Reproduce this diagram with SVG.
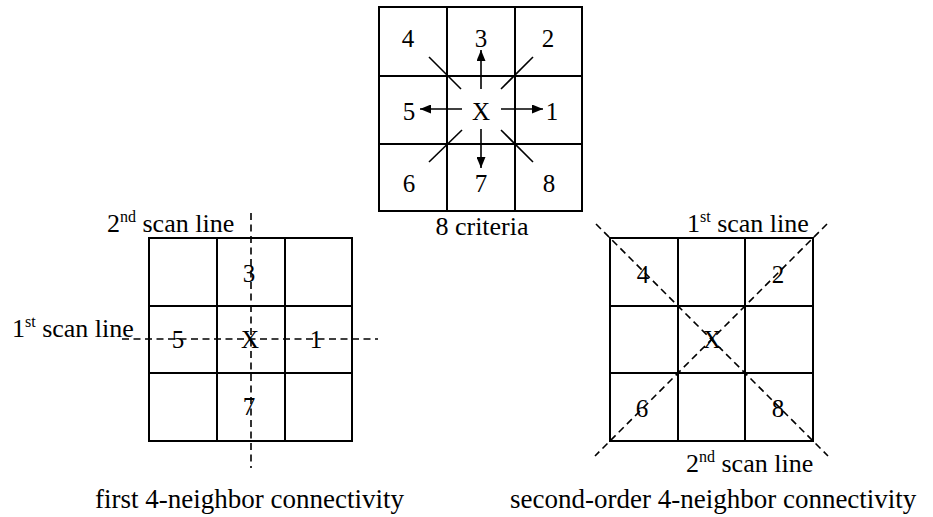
<svg xmlns="http://www.w3.org/2000/svg" width="933" height="517" viewBox="0 0 933 517">
<defs>
<style>
.grid{fill:none;stroke:#000;stroke-width:2}
.dash{fill:none;stroke:#000;stroke-width:1.6;stroke-dasharray:7 4.5}
.solid{fill:none;stroke:#000;stroke-width:1.6}
text{font-family:'Liberation Serif','DejaVu Serif',serif;fill:#000}
.d{font-size:25px;text-anchor:middle}
.cap{font-size:27px}
.lbl{font-size:26px}
</style>
<marker id="ah" viewBox="0 0 11 9" refX="11" refY="4.5" markerWidth="11" markerHeight="9" markerUnits="userSpaceOnUse" orient="auto">
<path d="M0,0 L11,4.5 L0,9 Z" fill="#000"/>
</marker>
</defs>
<rect width="933" height="517" fill="#fff"/>

<g id="grid-8-criteria" font-family="Liberation Serif, DejaVu Serif, serif">
<rect class="grid" x="379" y="7" width="203" height="204"/>
<line class="grid" x1="447" y1="7" x2="447" y2="211"/>
<line class="grid" x1="515" y1="7" x2="515" y2="211"/>
<line class="grid" x1="379" y1="76" x2="582" y2="76"/>
<line class="grid" x1="379" y1="144" x2="582" y2="144"/>
<text class="d" x="408" y="47">4</text>
<text class="d" x="481" y="47">3</text>
<text class="d" x="548" y="47">2</text>
<text class="d" x="409" y="120">5</text>
<text class="d" x="481" y="120">X</text>
<text class="d" x="552" y="120">1</text>
<text class="d" x="409" y="192">6</text>
<text class="d" x="481" y="192">7</text>
<text class="d" x="549" y="192">8</text>
<text class="lbl" x="482" y="235" text-anchor="middle">8 criteria</text>
</g>

<g id="grid-first" font-family="Liberation Serif, DejaVu Serif, serif">
<rect class="grid" x="149" y="238" width="203" height="203"/>
<line class="grid" x1="217" y1="238" x2="217" y2="441"/>
<line class="grid" x1="285" y1="238" x2="285" y2="441"/>
<line class="grid" x1="149" y1="306" x2="352" y2="306"/>
<line class="grid" x1="149" y1="373" x2="352" y2="373"/>
<text class="d" x="249" y="282">3</text>
<text class="d" x="178" y="348">5</text>
<text class="d" x="250" y="348">X</text>
<text class="d" x="316" y="348">1</text>
<text class="d" x="249" y="415">7</text>
<text class="lbl" x="107" y="232">2<tspan font-size="16" dy="-10">nd</tspan><tspan dy="10"> scan line</tspan></text>
<text class="lbl" x="12" y="337">1<tspan font-size="16" dy="-10">st</tspan><tspan dy="10"> scan line</tspan></text>
<text class="cap" x="95" y="508">first 4-neighbor connectivity</text>
</g>

<g id="grid-second" font-family="Liberation Serif, DejaVu Serif, serif">
<rect class="grid" x="610" y="238" width="203" height="203"/>
<line class="grid" x1="678" y1="238" x2="678" y2="441"/>
<line class="grid" x1="745" y1="238" x2="745" y2="441"/>
<line class="grid" x1="610" y1="306" x2="813" y2="306"/>
<line class="grid" x1="610" y1="373" x2="813" y2="373"/>
<text class="d" x="643" y="283">4</text>
<text class="d" x="778" y="283">2</text>
<text class="d" x="712" y="348">X</text>
<text class="d" x="642" y="417">6</text>
<text class="d" x="778" y="417">8</text>
<text class="lbl" x="687" y="232">1<tspan font-size="16" dy="-10">st</tspan><tspan dy="10"> scan line</tspan></text>
<text class="lbl" x="686" y="472">2<tspan font-size="16" dy="-10">nd</tspan><tspan dy="10"> scan line</tspan></text>
<text class="cap" x="510" y="508">second-order 4-neighbor connectivity</text>
</g>

<g id="connectors">
<line class="solid" x1="481" y1="89" x2="481" y2="50" marker-end="url(#ah)"/>
<line class="solid" x1="462" y1="109" x2="420" y2="109" marker-end="url(#ah)"/>
<line class="solid" x1="501" y1="109" x2="543" y2="109" marker-end="url(#ah)"/>
<line class="solid" x1="481" y1="129" x2="481" y2="168" marker-end="url(#ah)"/>
<line class="solid" x1="429" y1="57" x2="461" y2="89"/>
<line class="solid" x1="533" y1="57" x2="501" y2="89"/>
<line class="solid" x1="462" y1="130" x2="429" y2="162"/>
<line class="solid" x1="501" y1="130" x2="533" y2="162"/>
<line class="dash" x1="251" y1="213" x2="251" y2="468"/>
<line class="dash" x1="122" y1="339" x2="378" y2="339"/>
<line class="dash" x1="596" y1="224" x2="828" y2="456"/>
<line class="dash" x1="827" y1="224" x2="595" y2="456"/>
</g>
</svg>
